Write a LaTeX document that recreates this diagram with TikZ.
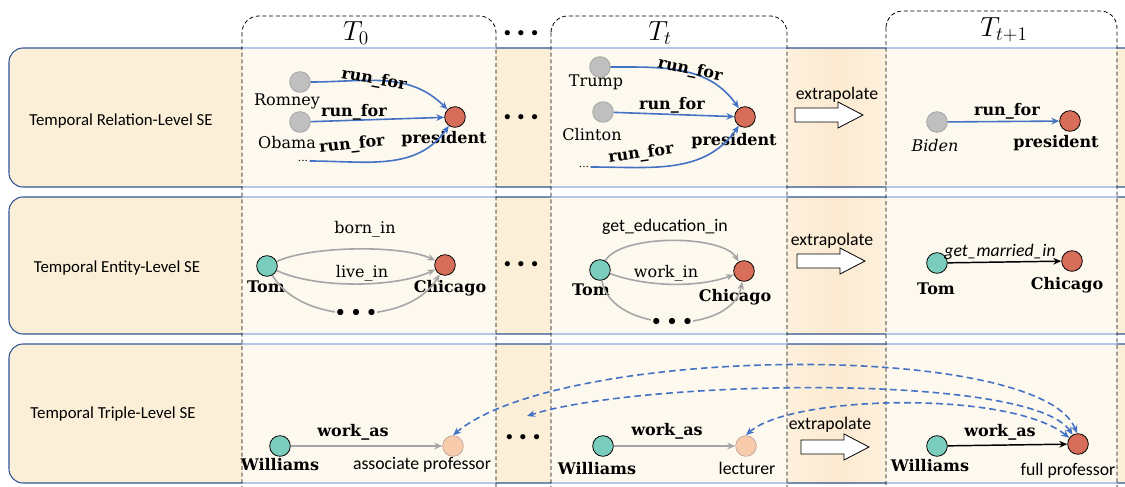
\documentclass[tikz,border=0pt]{standalone}
\usepackage{fontspec}
\setmainfont{DejaVu Serif}
\newfontfamily\calib{Carlito}
\usetikzlibrary{arrows.meta,calc}
\definecolor{rowbg}{HTML}{FCEFD8}
\definecolor{colbg}{HTML}{FEF9EF}
\definecolor{gapl}{HTML}{FDF0DC}
\definecolor{gapm}{HTML}{FCEAD1}
\definecolor{rowline}{HTML}{2F5597}
\definecolor{rowlight}{HTML}{B4C7E7}
\definecolor{edgeblue}{HTML}{4472C4}
\definecolor{edgegrey}{HTML}{A6A6A6}
\definecolor{nodegrey}{HTML}{BFBFBF}
\definecolor{nodegreyline}{HTML}{A5A5A5}
\definecolor{nodered}{HTML}{D66E5A}
\definecolor{nodeteal}{HTML}{7ACCBD}
\definecolor{nodepeach}{HTML}{F8CBAD}
\definecolor{peachline}{HTML}{C4A9A0}
\tikzset{
  ent/.style={circle, draw=black, line width=0.6pt, minimum size=15.5pt, inner sep=0pt},
  gnode/.style={ent, fill=nodegrey, draw=nodegreyline},
  rnode/.style={ent, fill=nodered},
  tnode/.style={ent, fill=nodeteal},
  pnode/.style={ent, fill=nodepeach, draw=peachline},
  lbl/.style={font=\fontsize{12}{14}\selectfont, inner sep=1pt},
  blbl/.style={font=\fontsize{12}{14}\selectfont\bfseries, inner sep=1pt},
  slbl/.style={font={\calib\fontsize{13.3}{15}\selectfont}, inner sep=1pt},
  rowlabel/.style={font={\calib\fontsize{12.6}{15}\selectfont}},
  hdr/.style={font=\fontsize{20}{24}\selectfont},
  gapdots/.style={font=\fontsize{10}{10}\selectfont, inner sep=0pt},
  arcdots/.style={font=\fontsize{12}{12}\selectfont, fill=colbg, inner sep=1pt},
  bedge/.style={draw=edgeblue, line width=1.2pt, -{Stealth[length=6pt,width=5pt]}},
  gedge/.style={draw=edgegrey, line width=1.2pt, -{Stealth[length=6pt,width=5pt]}},
  kedge/.style={draw=black, line width=1.1pt, -{Stealth[length=6pt,width=5pt]}},
  dedge/.style={draw=edgeblue, line width=1.2pt, dash pattern=on 5pt off 3pt,
    {Stealth[length=6pt,width=5pt]}-{Stealth[length=6pt,width=5pt]}},
  colframe/.style={draw=black, line width=0.6pt, dash pattern=on 3pt off 2pt, rounded corners=12.5pt},
  extrap/.pic={\draw[fill=white, line width=0.6pt] (0,-7) -- (43,-7) -- (43,-13) -- (68,0) -- (43,13) -- (43,7) -- (0,7) -- cycle;}
}
\begin{document}
\begin{tikzpicture}[x=0.75pt,y=-0.75pt]
\useasboundingbox (0,0) rectangle (1125,486);
\clip (0,0) rectangle (1125,486);
\fill[white] (0,0) rectangle (1125,486);

% rows
\foreach \ya/\yb in {48/187,197/334,344/483}{
  \fill[rowbg, rounded corners=10.5pt] (9,\ya) rectangle (1150,\yb);
  \fill[colbg] (242,\ya) rectangle (496,\yb);
  \fill[colbg] (551,\ya) rectangle (787,\yb);
  \fill[colbg] (886,\ya) rectangle (1117,\yb);
  \shade[left color=gapl, right color=gapl, middle color=gapm] (787,\ya) rectangle (886,\yb);
  \draw[rowline, line width=0.8pt, rounded corners=10.5pt] (9,\ya) rectangle (1150,\yb);
  \foreach \xa/\xb in {242/496,551/787,886/1117}{
    \draw[rowlight, line width=0.8pt] (\xa,\ya) -- (\xb,\ya) (\xa,\yb) -- (\xb,\yb);
  }
}

% column frames
\draw[colframe] (242,16) rectangle (496,530);
\draw[colframe] (551,16) rectangle (787,530);
\draw[colframe] (886,11) rectangle (1117,530);

% headers
\node[hdr] (hT0) at (356,33) {$T_0$};
\node[hdr] (hTt) at (660,33) {$T_t$};
\node[hdr] (hTn) at (1004,30) {$T_{t+1}$};
\node[gapdots] (gd0) at (521,34) {$\bullet\hspace{3pt}\bullet\hspace{3pt}\bullet$};
\node[gapdots] (gd1) at (521,118) {$\bullet\hspace{3pt}\bullet\hspace{3pt}\bullet$};
\node[gapdots] (gd2) at (521,265) {$\bullet\hspace{3pt}\bullet\hspace{3pt}\bullet$};
\node[gapdots] (gd3) at (523,438) {$\bullet\hspace{3pt}\bullet\hspace{3pt}\bullet$};

% row labels
\node[rowlabel] (r1) at (121,121) {Temporal Relation-Level SE};
\node[rowlabel] (r2) at (117,268) {Temporal Entity-Level SE};
\node[rowlabel] (r3) at (113,414) {Temporal Triple-Level SE};

% ---------- row 1 ----------
\node[gnode] (rom0) at (300,82) {};
\node[lbl] (romL) at (287,101) {Romney};
\node[gnode] (oba0) at (300,122) {};
\node[lbl] (obaL) at (287,143) {Obama};
\node[lbl, font=\fontsize{8}{9}\selectfont] (dot0) at (303,161) {...};
\node[rnode] (pres0) at (455,117) {};
\node[blbl] (pres0L) at (444,139) {president};
\draw[bedge] (rom0) to[out=0,in=135] (pres0);
\draw[bedge] (oba0) -- (pres0);
\draw[bedge] (dot0.east) to[out=0,in=235] (pres0);
\node[blbl, rotate=-10] (rf01) at (374,80) {run\_for};
\node[blbl] (rf02) at (354,112) {run\_for};
\node[blbl, rotate=6] (rf03) at (352,145) {run\_for};

\node[gnode] (tru) at (600,67) {};
\node[lbl] (truL) at (596,82) {Trump};
\node[gnode] (cli) at (603,112) {};
\node[lbl] (cliL) at (592,135) {Clinton};
\node[lbl, font=\fontsize{8}{9}\selectfont] (dot1) at (584,167) {...};
\node[rnode] (pres1) at (745,117) {};
\node[blbl] (pres1L) at (734,141) {president};
\draw[bedge] (tru) to[out=0,in=125] (pres1);
\draw[bedge] (cli) -- (pres1);
\draw[bedge] (dot1.east) to[out=0,in=235] (pres1);
\node[blbl, rotate=-12] (rf11) at (690,70) {run\_for};
\node[blbl] (rf12) at (672,105) {run\_for};
\node[blbl, rotate=8] (rf13) at (641,154) {run\_for};

\node[gnode] (bid) at (937,122) {};
\node[lbl, font=\fontsize{12}{14}\selectfont\itshape] (bidL) at (935,146) {Biden};
\node[rnode] (pres2) at (1070,121) {};
\node[blbl] (pres2L) at (1056,143) {president};
\draw[bedge] (bid) -- (pres2);
\node[blbl] (rf21) at (1007,111) {run\_for};

% extrapolate arrows
\node[slbl] (ex1) at (837,95) {extrapolate};
\pic at (795,115) {extrap};
\node[slbl] (ex2) at (832,241) {extrapolate};
\pic at (797,261) {extrap};
\node[slbl] (ex3) at (830,425) {extrapolate};
\pic at (801,447) {extrap};

% ---------- row 2 ----------
\node[tnode] (tom0) at (267,266) {};
\node[blbl] (tom0L) at (266,287) {Tom};
\node[rnode] (chi0) at (445,265) {};
\node[blbl] (chi0L) at (450,288) {Chicago};
\draw[gedge] (tom0) to[out=25,in=155,looseness=0.6] (chi0);
\draw[gedge] (tom0) to[out=-25,in=-155,looseness=0.7] (chi0);
\draw[gedge] (tom0) to[out=-60,in=-120,looseness=0.9] node[arcdots] (ad0) {$\bullet\hspace{3pt}\bullet\hspace{3pt}\bullet$} (chi0);
\node[lbl] (bi0) at (365,229) {born\_in};
\node[lbl] (li0) at (362,273) {live\_in};

\node[tnode] (tom1) at (600,270) {};
\node[blbl] (tom1L) at (591,290) {Tom};
\node[rnode] (chi1) at (744,271) {};
\node[blbl] (chi1L) at (735,297) {Chicago};
\draw[gedge] (tom1) to[out=60,in=120,looseness=0.6] (chi1);
\draw[gedge] (tom1) to[out=-20,in=-160,looseness=0.8] (chi1);
\draw[gedge] (tom1) to[out=-80,in=-100,looseness=1] node[arcdots] (ad1) {$\bullet\hspace{3pt}\bullet\hspace{3pt}\bullet$} (chi1);
\node[slbl] (ge1) at (665,227) {get\_education\_in};
\node[lbl] (wi1) at (666,273) {work\_in};

\node[tnode] (tom2) at (937,263) {};
\node[blbl] (tom2L) at (936,289) {Tom};
\node[rnode] (chi2) at (1072,261) {};
\node[blbl] (chi2L) at (1067,285) {Chicago};
\draw[kedge] (tom2) -- (chi2);
\node[slbl, font={\calib\itshape\fontsize{13.3}{15}\selectfont}] (gm2) at (1000,252) {get\_married\_in};

% ---------- row 3 ----------
\node[tnode] (wil0) at (280,446) {};
\node[blbl] (wil0L) at (280,465) {Williams};
\node[pnode] (ap) at (453,446) {};
\node[slbl] (apL) at (422,465) {associate professor};
\draw[gedge] (wil0) -- (ap);
\node[blbl] (wa0) at (353,432) {work\_as};
\coordinate (mid3) at (527,416);

\node[tnode] (wil1) at (603,446) {};
\node[blbl] (wil1L) at (597,469) {Williams};
\node[pnode] (lec) at (746,446) {};
\node[slbl] (lecL) at (747,468) {lecturer};
\draw[gedge] (wil1) -- (lec);
\node[blbl] (wa1) at (667,431) {work\_as};

\node[tnode] (wil2) at (937,446) {};
\node[blbl] (wil2L) at (930,466) {Williams};
\node[rnode] (fp) at (1078,444) {};
\node[slbl] (fpL) at (1068,471) {full professor};
\draw[kedge] (wil2) -- (fp);
\node[blbl] (wa2) at (1000,432) {work\_as};

\draw[dedge] (fp.95) .. controls (1040,340) and (560,345) .. (ap.north);
\draw[dedge] (fp.120) .. controls (1030,372) and (640,380) .. (mid3);
\draw[dedge] (fp.145) .. controls (1010,390) and (790,395) .. (lec.north);
\end{tikzpicture}
\end{document}
